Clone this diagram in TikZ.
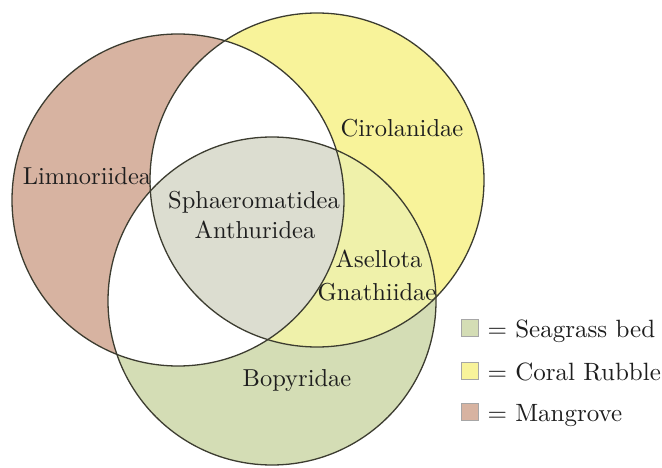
\documentclass[tikz,border=0pt]{standalone}
\definecolor{mangrove}{HTML}{D7B3A1}
\definecolor{coral}{HTML}{F8F39A}
\definecolor{seagrass}{HTML}{D4DDB5}
\definecolor{triple}{HTML}{DCDDD0}
\definecolor{coralsea}{HTML}{EFF1AA}
\definecolor{edge}{HTML}{3C3C30}
\definecolor{ink}{HTML}{1E1E1E}
\begin{document}
\begin{tikzpicture}[x=1pt,y=-1pt,
  ring/.style={draw=edge,line width=1.3pt},
  lab/.style={font=\fontsize{10}{12}\selectfont,scale=2.45,transform shape,text=ink,anchor=base,inner sep=0pt},
  legtext/.style={font=\fontsize{10}{12}\selectfont,scale=2.5,transform shape,text=ink,anchor=base west,inner sep=0pt},
  legbox/.style={draw=black!35,line width=0.6pt,minimum size=17pt,inner sep=0pt}]
\useasboundingbox (0,0) rectangle (662,468);
\fill[white] (0,0) rectangle (662,468);
% base fills
\fill[mangrove] (178,200) circle[radius=166];
\fill[coral] (317,180) circle[radius=167];
\fill[seagrass] (272,301) circle[radius=164];
% Mangrove & Coral only, Mangrove & Seagrass only -> white
\begin{scope}
  \clip (178,200) circle[radius=166];
  \fill[white] (317,180) circle[radius=167];
  \fill[white] (272,301) circle[radius=164];
\end{scope}
% Coral & Seagrass
\begin{scope}
  \clip (317,180) circle[radius=167];
  \fill[coralsea] (272,301) circle[radius=164];
\end{scope}
% triple
\begin{scope}
  \clip (178,200) circle[radius=166];
  \clip (317,180) circle[radius=167];
  \fill[triple] (272,301) circle[radius=164];
\end{scope}
% labels
\node[lab] (lim) at (87,185) {Limnoriidea};
\node[lab] (cir) at (402,137) {Cirolanidae};
\node[lab] (sph) at (254,208) {Sphaeromatidea};
\node[lab] (ant) at (255,238) {Anthuridea};
\node[lab] (ase) at (379,267) {Asellota};
\node[lab] (gna) at (377,300) {Gnathiidae};
\node[lab] (bop) at (297,386) {Bopyridae};
% outlines
\draw[ring] (178,200) circle[radius=166];
\draw[ring] (317,180) circle[radius=167];
\draw[ring] (272,301) circle[radius=164];
% legend
\node[legbox,fill=seagrass] (k1) at (469.5,328) {};
\node[legbox,fill=coral] (k2) at (469.5,371) {};
\node[legbox,fill=mangrove] (k3) at (469.5,412) {};
\node[legtext] (t1) at (487,337) {= Seagrass bed};
\node[legtext] (t2) at (487,380) {= Coral Rubble};
\node[legtext] (t3) at (487,421) {= Mangrove};
\end{tikzpicture}
\end{document}
